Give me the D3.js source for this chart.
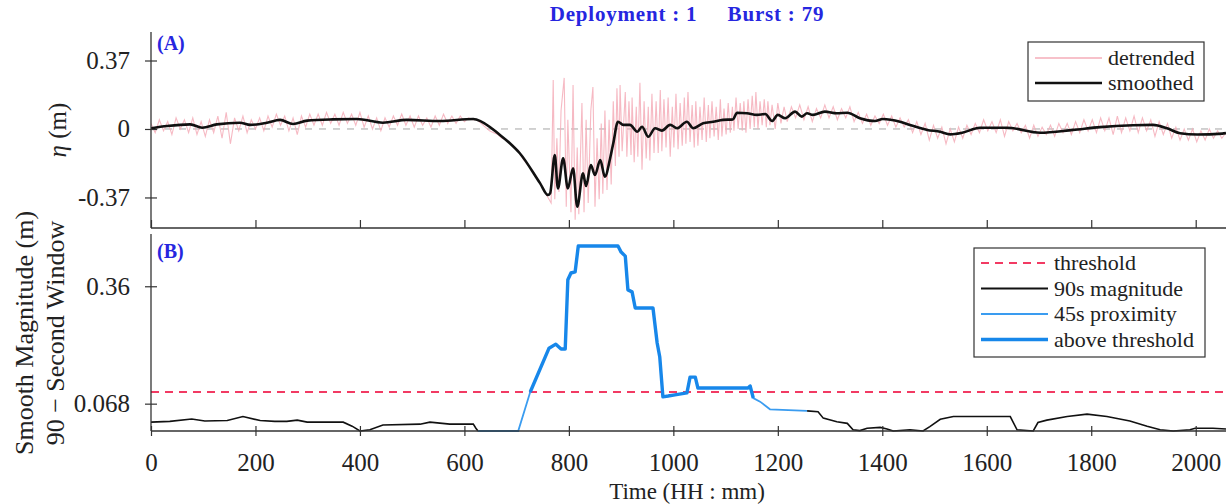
<!DOCTYPE html>
<html>
<head>
<meta charset="utf-8">
<script src="https://cdn.jsdelivr.net/npm/d3@7"></script>
<style>
  html, body { margin: 0; padding: 0; background: #fff; }
  svg { display: block; }
  svg text { font-family: "Liberation Serif", "DejaVu Serif", serif; fill: #222; }
</style>
</head>
<body>
<svg id="chart" width="1228" height="504"></svg>
<script>
// ---- data ---------------------------------------------------------------
const timeMax = 2058;
const timeTicks = [0, 200, 400, 600, 800, 1000, 1200, 1400, 1600, 1800, 2000];
const etaTicks = [-0.37, 0, 0.37];
const etaTickLabels = ["-0.37", "0", "0.37"];
const magTicks = [0.068, 0.36];
const magTickLabels = ["0.068", "0.36"];
const threshold = 0.097;
const proximityWindow = [626, 1256];
const aboveWindow = [726, 1153];

// smoothed surface elevation [time, eta]
const smoothed = [
  [0,0.004],[31,0.016],[75,0.025],[98,0.007],[126,0.025],[170,0.034],[190,0.022],[222,0.034],
  [247,0.049],[272,0.027],[299,0.045],[348,0.052],[394,0.054],[444,0.034],[490,0.049],[553,0.043],
  [617,0.054],[624,0.050],[668,-0.032],[687,-0.077],[706,-0.131],[745,-0.294],[760,-0.357],[764,-0.348],
  [773,-0.141],[779,-0.321],[789,-0.158],[798,-0.321],[808,-0.212],[816,-0.420],[827,-0.240],[833,-0.308],
  [842,-0.195],[850,-0.249],[860,-0.168],[869,-0.258],[879,-0.158],[885,-0.077],[894,0.039],[904,0.022],
  [917,0.022],[931,-0.015],[940,0.012],[952,-0.042],[965,0.004],[978,-0.009],[994,0.022],[1007,0.004],
  [1026,0.039],[1038,0.004],[1057,0.031],[1076,0.039],[1095,0.049],[1114,0.052],[1122,0.088],[1141,0.085],
  [1160,0.076],[1176,0.081],[1189,0.043],[1200,0.076],[1214,0.058],[1233,0.094],[1246,0.067],[1256,0.085],
  [1267,0.076],[1290,0.094],[1313,0.085],[1333,0.088],[1357,0.058],[1386,0.043],[1401,0.054],[1434,0.039],
  [1453,0.022],[1486,-0.005],[1511,-0.015],[1530,-0.029],[1553,-0.020],[1587,0.007],[1639,0.007],[1702,-0.020],
  [1765,-0.005],[1817,0.010],[1880,0.020],[1918,0.022],[1945,0.004],[1970,-0.023],[2003,-0.030],[2051,-0.025],
  [2058,-0.022]
];

// detrended surface elevation [time, eta]
const detrended = [
  [0,0.03],[8,-0.02],[16,0.05],[24,-0.01],[32,0.04],[40,-0.03],[48,0.06],[56,0.00],[64,0.05],[72,-0.02],
  [80,0.06],[88,-0.03],[96,0.04],[104,-0.04],[112,0.05],[120,-0.02],[128,0.07],[136,-0.05],[144,0.09],[152,-0.08],
  [160,0.06],[168,-0.01],[176,0.07],[184,-0.02],[192,0.05],[200,0.00],[208,0.06],[216,-0.01],[224,0.07],[232,0.01],
  [240,0.08],[248,0.02],[256,0.07],[264,-0.01],[272,0.06],[280,-0.03],[288,0.07],[296,0.01],[304,0.08],[312,0.02],
  [320,0.08],[328,0.02],[336,0.09],[344,0.03],[352,0.08],[360,0.02],[368,0.09],[376,0.03],[384,0.08],[392,0.02],
  [400,0.09],[408,0.01],[416,0.07],[424,0.00],[432,0.06],[440,-0.01],[448,0.06],[456,0.01],[464,0.07],[472,0.02],
  [480,0.08],[488,0.02],[496,0.07],[504,0.01],[512,0.07],[520,0.02],[528,0.06],[536,0.01],[544,0.07],[552,0.02],
  [560,0.08],[568,0.03],[576,0.07],[584,0.03],[592,0.07],[600,0.04],[608,0.06],[616,0.05],[624,0.05],
  [632,0.03],[640,0.01],[648,-0.01],[656,-0.02],[664,-0.03],[672,-0.05],[680,-0.06],[688,-0.08],[696,-0.10],
  [704,-0.12],[712,-0.16],[720,-0.19],[728,-0.22],[736,-0.25],[744,-0.29],[752,-0.33],[760,-0.37],
  [766,-0.40],[770,0.265],[773,-0.38],[777,-0.05],[781,-0.34],[785,0.10],[791,0.276],[795,-0.42],[798,0.05],
  [804,-0.45],[808,0.238],[812,-0.49],[816,-0.10],[819,-0.46],[825,0.14],[829,-0.45],[833,0.05],[837,-0.40],
  [842,0.10],[846,0.227],[850,-0.42],[854,-0.05],[858,-0.38],[862,0.03],[865,-0.35],[869,0.10],[873,-0.33],
  [877,0.05],[881,-0.30],[885,0.15],[889,-0.20],[892,0.22],[896,-0.15],[898,0.238],[902,-0.12],[908,0.20],
  [911,-0.15],[915,0.15],[919,-0.14],[921,0.17],[925,-0.18],[929,0.12],[932,-0.15],[936,0.25],[940,-0.22],
  [944,0.15],[948,-0.16],[952,0.12],[955,-0.17],[959,0.19],[963,-0.13],[967,0.15],[971,-0.13],[975,0.21],
  [978,-0.12],[982,0.16],[986,-0.10],[990,0.17],[994,-0.15],[998,0.12],[1001,-0.10],[1005,0.19],[1009,-0.11],
  [1013,0.14],[1017,-0.09],[1021,0.17],[1024,-0.08],[1028,0.20],[1032,-0.07],[1036,0.13],[1040,-0.10],
  [1043,0.15],[1047,-0.09],[1051,0.12],[1055,-0.06],[1059,0.17],[1063,-0.07],[1067,0.13],[1070,-0.05],
  [1074,0.15],[1078,-0.04],[1082,0.12],[1086,-0.06],[1090,0.16],[1093,-0.04],[1097,0.11],[1101,-0.03],
  [1105,0.14],[1109,-0.02],[1113,0.12],[1116,-0.01],[1120,0.17],[1124,0.00],[1128,0.14],[1132,-0.01],
  [1135,0.15],[1139,-0.02],[1143,0.16],[1147,0.00],[1151,0.18],[1155,0.01],[1158,0.20],[1162,0.00],
  [1166,0.15],[1170,0.02],[1174,0.16],[1178,0.01],[1181,0.15],[1185,0.02],[1189,0.13],[1195,0.00],
  [1200,0.14],[1206,0.03],[1212,0.12],[1218,0.04],
  [1226,0.12],[1234,0.06],[1242,0.13],[1250,0.05],[1258,0.12],[1266,0.04],[1274,0.11],[1282,0.06],[1290,0.13],
  [1298,0.06],[1306,0.12],[1314,0.05],[1322,0.11],[1330,0.06],[1338,0.12],[1346,0.04],[1354,0.09],[1362,0.03],
  [1370,0.08],[1378,0.02],[1386,0.07],[1394,0.03],[1402,0.08],[1410,0.02],[1418,0.07],[1426,0.01],[1434,0.06],
  [1442,0.01],[1450,0.05],[1458,-0.02],[1466,0.04],[1474,-0.03],[1482,0.03],[1490,-0.06],[1498,0.02],[1506,-0.05],
  [1514,0.01],[1522,-0.08],[1530,0.00],[1538,-0.07],[1546,0.01],[1554,-0.05],[1562,0.02],[1570,-0.03],[1578,0.03],
  [1586,-0.02],[1594,0.05],[1602,-0.01],[1610,0.04],[1618,-0.02],[1626,0.05],[1634,-0.04],[1642,0.04],[1650,-0.01],
  [1658,0.03],[1666,-0.02],[1674,0.02],[1682,-0.05],[1690,0.02],[1698,-0.04],[1706,0.01],[1714,-0.03],[1722,0.02],
  [1730,-0.04],[1738,0.03],[1746,-0.02],[1754,0.03],[1762,-0.03],[1770,0.04],[1778,-0.02],[1786,0.05],[1794,-0.01],
  [1802,0.05],[1810,-0.02],[1818,0.06],[1826,-0.01],[1834,0.06],[1842,-0.03],[1850,0.07],[1858,-0.02],[1866,0.06],
  [1874,-0.01],[1882,0.07],[1890,-0.02],[1898,0.06],[1906,-0.01],[1914,0.05],[1922,-0.04],[1930,0.04],[1938,-0.03],
  [1946,0.03],[1954,-0.05],[1962,0.01],[1970,-0.06],[1978,0.00],[1986,-0.06],[1994,0.00],[2002,-0.07],[2010,-0.01],
  [2018,-0.06],[2026,0.00],[2034,-0.05],[2042,-0.01],[2050,-0.05],[2058,-0.02]
];

// 90-second smoothed magnitude [time, magnitude]
const magnitude = [
  [0,0.022],[36,0.024],[78,0.030],[103,0.025],[146,0.026],[176,0.036],[209,0.026],[237,0.024],[260,0.024],
  [280,0.027],[299,0.022],[368,0.022],[385,0.012],[400,0.0],[419,0.003],[444,0.015],[515,0.017],[534,0.022],
  [572,0.017],[617,0.017],[622,0.007],[626,0],[703,0],[726,0.097],[762,0.206],[775,0.216],[785,0.204],
  [793,0.204],[798,0.376],[804,0.393],[812,0.396],[818,0.460],[894,0.460],[900,0.445],[908,0.435],[913,0.351],
  [921,0.346],[927,0.306],[961,0.306],[969,0.219],[974,0.184],[980,0.085],[990,0.087],[1003,0.090],[1026,0.095],
  [1032,0.134],[1042,0.134],[1047,0.107],[1143,0.107],[1147,0.112],[1153,0.082],[1166,0.073],[1185,0.054],
  [1256,0.050],[1277,0.048],[1287,0.032],[1313,0.023],[1333,0.019],[1344,0.003],[1357,0.001],[1371,0.007],
  [1396,0.009],[1409,0.005],[1421,0],[1453,0.003],[1478,0],[1491,0.011],[1511,0.029],[1536,0.036],[1645,0.036],
  [1658,0.003],[1689,0],[1698,0.021],[1715,0.027],[1754,0.036],[1792,0.042],[1830,0.036],[1874,0.025],
  [1907,0.012],[1932,0.003],[1957,0],[1989,0.003],[1999,0.007],[2033,0.007],[2058,0.005]
];

// ---- layout -------------------------------------------------------------
const svg = d3.select("#chart");
const serif = "'Liberation Serif', 'DejaVu Serif', serif";
const blueText = "#2626df";
const axisColor = "#333";
const left = 151, right = 1226;
const panelA = { top: 32, bottom: 228 };
const panelB = { top: 234, bottom: 431 };

const x = d3.scaleLinear().domain([0, timeMax]).range([left, right]);
const yA = d3.scaleLinear().domain([-0.535, 0.524]).range([panelA.bottom, panelA.top]);
const yB = d3.scaleLinear().domain([0, 0.49]).range([panelB.bottom, panelB.top]);

const defs = svg.append("defs");
defs.append("clipPath").attr("id", "clipA")
  .append("rect").attr("x", left).attr("y", panelA.top)
  .attr("width", right - left).attr("height", panelA.bottom - panelA.top);
defs.append("clipPath").attr("id", "clipB")
  .append("rect").attr("x", left).attr("y", panelB.top - 2)
  .attr("width", right - left).attr("height", panelB.bottom - panelB.top + 4);

// ---- title --------------------------------------------------------------
svg.append("text")
  .attr("x", 687).attr("y", 21).attr("text-anchor", "middle")
  .attr("font-size", 21).attr("font-weight", "bold").attr("letter-spacing", 0.8)
  .style("fill", blueText).style("white-space", "pre")
  .text("Deployment : 1     Burst : 79");

// ---- panel A ------------------------------------------------------------
const gA = svg.append("g");
gA.append("line")
  .attr("x1", left).attr("x2", right).attr("y1", yA(0)).attr("y2", yA(0))
  .attr("stroke", "#9a9a9a").attr("stroke-width", 0.9).attr("stroke-dasharray", "7,7");

const lineA = d3.line().x(d => x(d[0])).y(d => yA(d[1]));
gA.append("path").datum(detrended)
  .attr("clip-path", "url(#clipA)")
  .attr("d", lineA).attr("fill", "none")
  .attr("stroke", "#f5adb8").attr("stroke-width", 1.1).attr("stroke-opacity", 0.85);
gA.append("path").datum(smoothed)
  .attr("clip-path", "url(#clipA)")
  .attr("d", lineA.curve(d3.curveMonotoneX)).attr("fill", "none")
  .attr("stroke", "#111").attr("stroke-width", 2.6).attr("stroke-linejoin", "round");

// axes A
const axA_y = gA.append("g").attr("transform", `translate(${left},0)`)
  .call(d3.axisLeft(yA).tickValues(etaTicks).tickFormat((d, i) => etaTickLabels[i]).tickSize(6).tickPadding(15));
axA_y.select(".domain").attr("d", `M0,${panelA.top}V${panelA.bottom}`);
const axA_x = gA.append("g").attr("transform", `translate(0,${panelA.bottom})`)
  .call(d3.axisBottom(x).tickValues(timeTicks).tickFormat("").tickSize(-8));
axA_x.select(".domain").attr("d", `M${left},0H${right}`);

// ---- panel B ------------------------------------------------------------
const gB = svg.append("g");
gB.append("line")
  .attr("x1", left).attr("x2", right).attr("y1", yB(threshold)).attr("y2", yB(threshold))
  .attr("stroke", "#f23a63").attr("stroke-width", 2).attr("stroke-dasharray", "8,6");

const lineB = d3.line().x(d => x(d[0])).y(d => yB(d[1]));
const before = magnitude.filter(d => d[0] <= proximityWindow[0]);
const after = magnitude.filter(d => d[0] >= proximityWindow[1]);
const prox = magnitude.filter(d => d[0] >= proximityWindow[0] && d[0] <= proximityWindow[1]);
const above = magnitude.filter(d => d[0] >= aboveWindow[0] && d[0] <= aboveWindow[1]);

[before, after].forEach(seg => gB.append("path").datum(seg)
  .attr("clip-path", "url(#clipB)")
  .attr("d", lineB).attr("fill", "none")
  .attr("stroke", "#111").attr("stroke-width", 1.6));
gB.append("path").datum(prox)
  .attr("clip-path", "url(#clipB)")
  .attr("d", lineB).attr("fill", "none")
  .attr("stroke", "#3a9cf0").attr("stroke-width", 1.8);
gB.append("path").datum(above)
  .attr("clip-path", "url(#clipB)")
  .attr("d", lineB).attr("fill", "none")
  .attr("stroke", "#1787ea").attr("stroke-width", 3.4).attr("stroke-linejoin", "round");

const axB_y = gB.append("g").attr("transform", `translate(${left},0)`)
  .call(d3.axisLeft(yB).tickValues(magTicks).tickFormat((d, i) => magTickLabels[i]).tickSize(6).tickPadding(15));
axB_y.select(".domain").attr("d", `M0,${panelB.top}V${panelB.bottom}`);
const axB_x = gB.append("g").attr("transform", `translate(0,${panelB.bottom})`)
  .call(d3.axisBottom(x).tickValues(timeTicks).tickFormat(d3.format("d")).tickSize(5).tickPadding(17));
axB_x.select(".domain").attr("d", `M${left},0H${right}`);
axB_x.selectAll(".tick line").attr("y1", -5);

// shared axis styling
[axA_y, axA_x, axB_y, axB_x].forEach(ax => {
  ax.attr("font-family", serif);
  ax.select(".domain").attr("stroke", axisColor).attr("stroke-width", 1.3);
  ax.selectAll(".tick line").attr("stroke", axisColor).attr("stroke-width", 1.2);
  ax.selectAll(".tick text").attr("font-size", 25).style("fill", "#222");
});
[axA_y, axB_y].forEach(ax => ax.selectAll(".tick line").attr("x2", 6).attr("x1", -6));

// ---- panel tags ---------------------------------------------------------
svg.append("text").attr("x", 157).attr("y", 50)
  .attr("font-size", 20).attr("font-weight", "bold").style("fill", blueText).text("(A)");
svg.append("text").attr("x", 157).attr("y", 258)
  .attr("font-size", 20).attr("font-weight", "bold").style("fill", blueText).text("(B)");

// ---- axis titles --------------------------------------------------------
svg.append("text")
  .attr("transform", "translate(57,130) rotate(-90)")
  .attr("text-anchor", "middle").attr("dy", "0.35em").attr("font-size", 25)
  .html('<tspan font-style="italic">η</tspan> (m)');
svg.append("text")
  .attr("transform", "translate(24,333) rotate(-90)")
  .attr("text-anchor", "middle").attr("dy", "0.35em").attr("font-size", 26)
  .text("Smooth Magnitude (m)");
svg.append("text")
  .attr("transform", "translate(55,333) rotate(-90)")
  .attr("text-anchor", "middle").attr("dy", "0.35em").attr("font-size", 26)
  .text("90 \u2212 Second Window");
svg.append("text")
  .attr("x", 687).attr("y", 499).attr("text-anchor", "middle").attr("font-size", 23)
  .text("Time (HH : mm)");

// ---- legends ------------------------------------------------------------
function legend(box, rows) {
  const g = svg.append("g");
  g.append("rect").attr("x", box.x).attr("y", box.y).attr("width", box.w).attr("height", box.h)
    .attr("fill", "#fff").attr("stroke", "#333").attr("stroke-width", 1.2);
  rows.forEach((r, i) => {
    const cy = box.y + box.first + i * box.step;
    g.append("line").attr("x1", box.x + 7).attr("x2", box.x + 74).attr("y1", cy).attr("y2", cy)
      .attr("stroke", r.color).attr("stroke-width", r.width)
      .attr("stroke-dasharray", r.dash || null).attr("stroke-opacity", r.opacity || 1);
    g.append("text").attr("x", box.x + 80).attr("y", cy).attr("dy", "0.33em")
      .attr("font-size", 22).text(r.label);
  });
}
legend({ x: 1028, y: 42, w: 176, h: 59, first: 16, step: 25 }, [
  { label: "detrended", color: "#f5adb8", width: 1.4 },
  { label: "smoothed", color: "#111", width: 2.6 }
]);
legend({ x: 974, y: 248, w: 231, h: 109, first: 15, step: 25.5 }, [
  { label: "threshold", color: "#f23a63", width: 2, dash: "8,6" },
  { label: "90s magnitude", color: "#111", width: 1.8 },
  { label: "45s proximity", color: "#3a9cf0", width: 1.8 },
  { label: "above threshold", color: "#1787ea", width: 3.4 }
]);
</script>
</body>
</html>
